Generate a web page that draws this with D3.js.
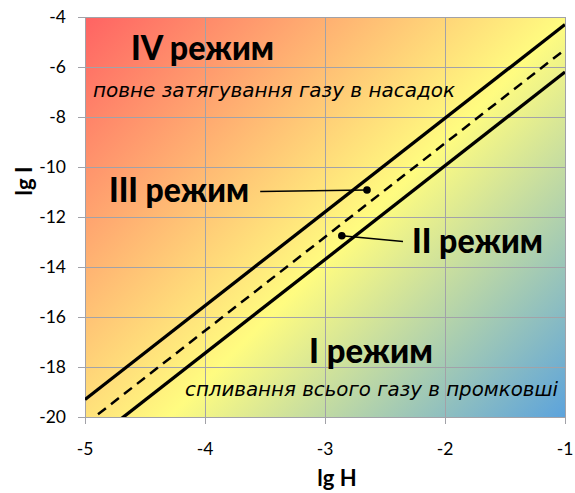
<!DOCTYPE html>
<html>
<head>
<meta charset="utf-8">
<script src="https://cdn.jsdelivr.net/npm/d3@7"></script>
<style>
  html, body { margin: 0; padding: 0; background: #fff; }
  svg { display: block; }
</style>
</head>
<body>
<svg id="chart" width="575" height="493"></svg>
<script>
// ---- data ----
const lgH = [-5, -1];
const upperI = [-19.3, -4.3];
const middleI = [-20.3, -5.3];
const lowerI = [-21.2, -6.2];
const xTicks = [-5, -4, -3, -2, -1];
const yTicks = [-20, -18, -16, -14, -12, -10, -8, -6, -4];
const pointH = [-2.65, -2.86];
const pointI = [-10.92, -12.75];
const leaderH = [-3.54, -2.35];
const leaderI = [-10.98, -12.98];
const regimeLabels = ["IV режим", "III режим", "II режим", "I режим"];
const descLabels = ["повне затягування газу в насадок", "спливання всього газу в промковші"];
const xTitle = "lg H";
const yTitle = "lg I";

// ---- layout ----
const svg = d3.select("#chart");
const L = 85, R = 565, T = 17, B = 417;
const x = d3.scaleLinear().domain([-5, -1]).range([L, R]);
const y = d3.scaleLinear().domain([-20, -4]).range([B, T]);

const defs = svg.append("defs");
const grad = defs.append("linearGradient")
  .attr("id", "bg").attr("gradientUnits", "userSpaceOnUse")
  .attr("x1", L).attr("y1", T).attr("x2", L + 440).attr("y2", T + 440);
grad.append("stop").attr("offset", 0).attr("stop-color", "#ff6363");
grad.append("stop").attr("offset", 0.55).attr("stop-color", "#fffc80");
grad.append("stop").attr("offset", 1).attr("stop-color", "#5ca3dc");
defs.append("clipPath").attr("id", "clip")
  .append("rect").attr("x", L).attr("y", T).attr("width", R - L).attr("height", B - T);

svg.append("rect").attr("x", L).attr("y", T).attr("width", R - L).attr("height", B - T)
  .attr("fill", "url(#bg)");

// grid
const grid = svg.append("g");
grid.selectAll("line.h").data(yTicks).join("line")
  .attr("x1", L - 7).attr("x2", R).attr("y1", d => y(d)).attr("y2", d => y(d))
  .attr("stroke", "#a2a2a8").attr("stroke-width", 1).attr("shape-rendering", "crispEdges");
grid.selectAll("line.v").data(xTicks).join("line")
  .attr("y1", T).attr("y2", B + 7).attr("x1", d => x(d)).attr("x2", d => x(d))
  .attr("stroke", "#a2a2a8").attr("stroke-width", 1).attr("shape-rendering", "crispEdges");

// axes labels
const tickFont = "Lato, 'Open Sans', sans-serif";
svg.append("g").selectAll("text").data(yTicks).join("text")
  .attr("x", 66).attr("y", d => y(d)).attr("dy", "0.35em")
  .attr("text-anchor", "end").attr("font-family", tickFont).attr("font-size", 17.5)
  .attr("fill", "#000").text(d => d);
svg.append("g").selectAll("text").data(xTicks).join("text")
  .attr("x", d => x(d)).attr("y", 455)
  .attr("text-anchor", "middle").attr("font-family", tickFont).attr("font-size", 17.5)
  .attr("fill", "#000").text(d => d);

svg.append("text").attr("x", 337).attr("y", 486).attr("text-anchor", "middle")
  .attr("font-family", tickFont).attr("font-weight", "bold").attr("font-size", 22)
  .text(xTitle);
svg.append("text").attr("transform", "translate(32,181) rotate(-90)").attr("text-anchor", "middle")
  .attr("font-family", tickFont).attr("font-weight", "bold").attr("font-size", 22)
  .text(yTitle);

// lines
const plot = svg.append("g").attr("clip-path", "url(#clip)");
const line = d3.line().x(d => x(d[0])).y(d => y(d[1]));
const mk = arr => lgH.map((h, i) => [h, arr[i]]);
plot.append("path").attr("d", line(mk(upperI))).attr("fill", "none")
  .attr("stroke", "#000").attr("stroke-width", 3.3);
plot.append("path").attr("d", line(mk(middleI))).attr("fill", "none")
  .attr("stroke", "#000").attr("stroke-width", 2.5).attr("stroke-dasharray", "10,6.5");
plot.append("path").attr("d", line(mk(lowerI))).attr("fill", "none")
  .attr("stroke", "#000").attr("stroke-width", 3.3);

// leaders and dots
pointH.forEach((h, i) => {
  svg.append("line").attr("x1", x(leaderH[i])).attr("y1", y(leaderI[i]))
    .attr("x2", x(h)).attr("y2", y(pointI[i])).attr("stroke", "#000").attr("stroke-width", 1.6);
  svg.append("circle").attr("cx", x(h)).attr("cy", y(pointI[i])).attr("r", 3.8).attr("fill", "#000");
});

// regime labels
const bigFont = "Lato, 'Open Sans', sans-serif";
const bigPos = [[131, 60, 143], [109, 202, 140], [412, 253, 131], [309, 363, 124]];
regimeLabels.forEach((t, i) => {
  svg.append("text").attr("x", bigPos[i][0]).attr("y", bigPos[i][1])
    .attr("font-family", bigFont).attr("font-weight", "900").attr("font-size", 34)
    .attr("textLength", bigPos[i][2]).attr("lengthAdjust", "spacingAndGlyphs")
    .attr("fill", "#000").text(t);
});
const descPos = [[93, 97, 362], [185, 396, 373]];
descLabels.forEach((t, i) => {
  svg.append("text").attr("x", descPos[i][0]).attr("y", descPos[i][1])
    .attr("font-family", "'DejaVu Sans', Verdana, sans-serif").attr("font-style", "italic")
    .attr("font-size", 20)
    .attr("textLength", descPos[i][2]).attr("lengthAdjust", "spacingAndGlyphs")
    .attr("fill", "#000").text(t);
});
</script>
</body>
</html>
